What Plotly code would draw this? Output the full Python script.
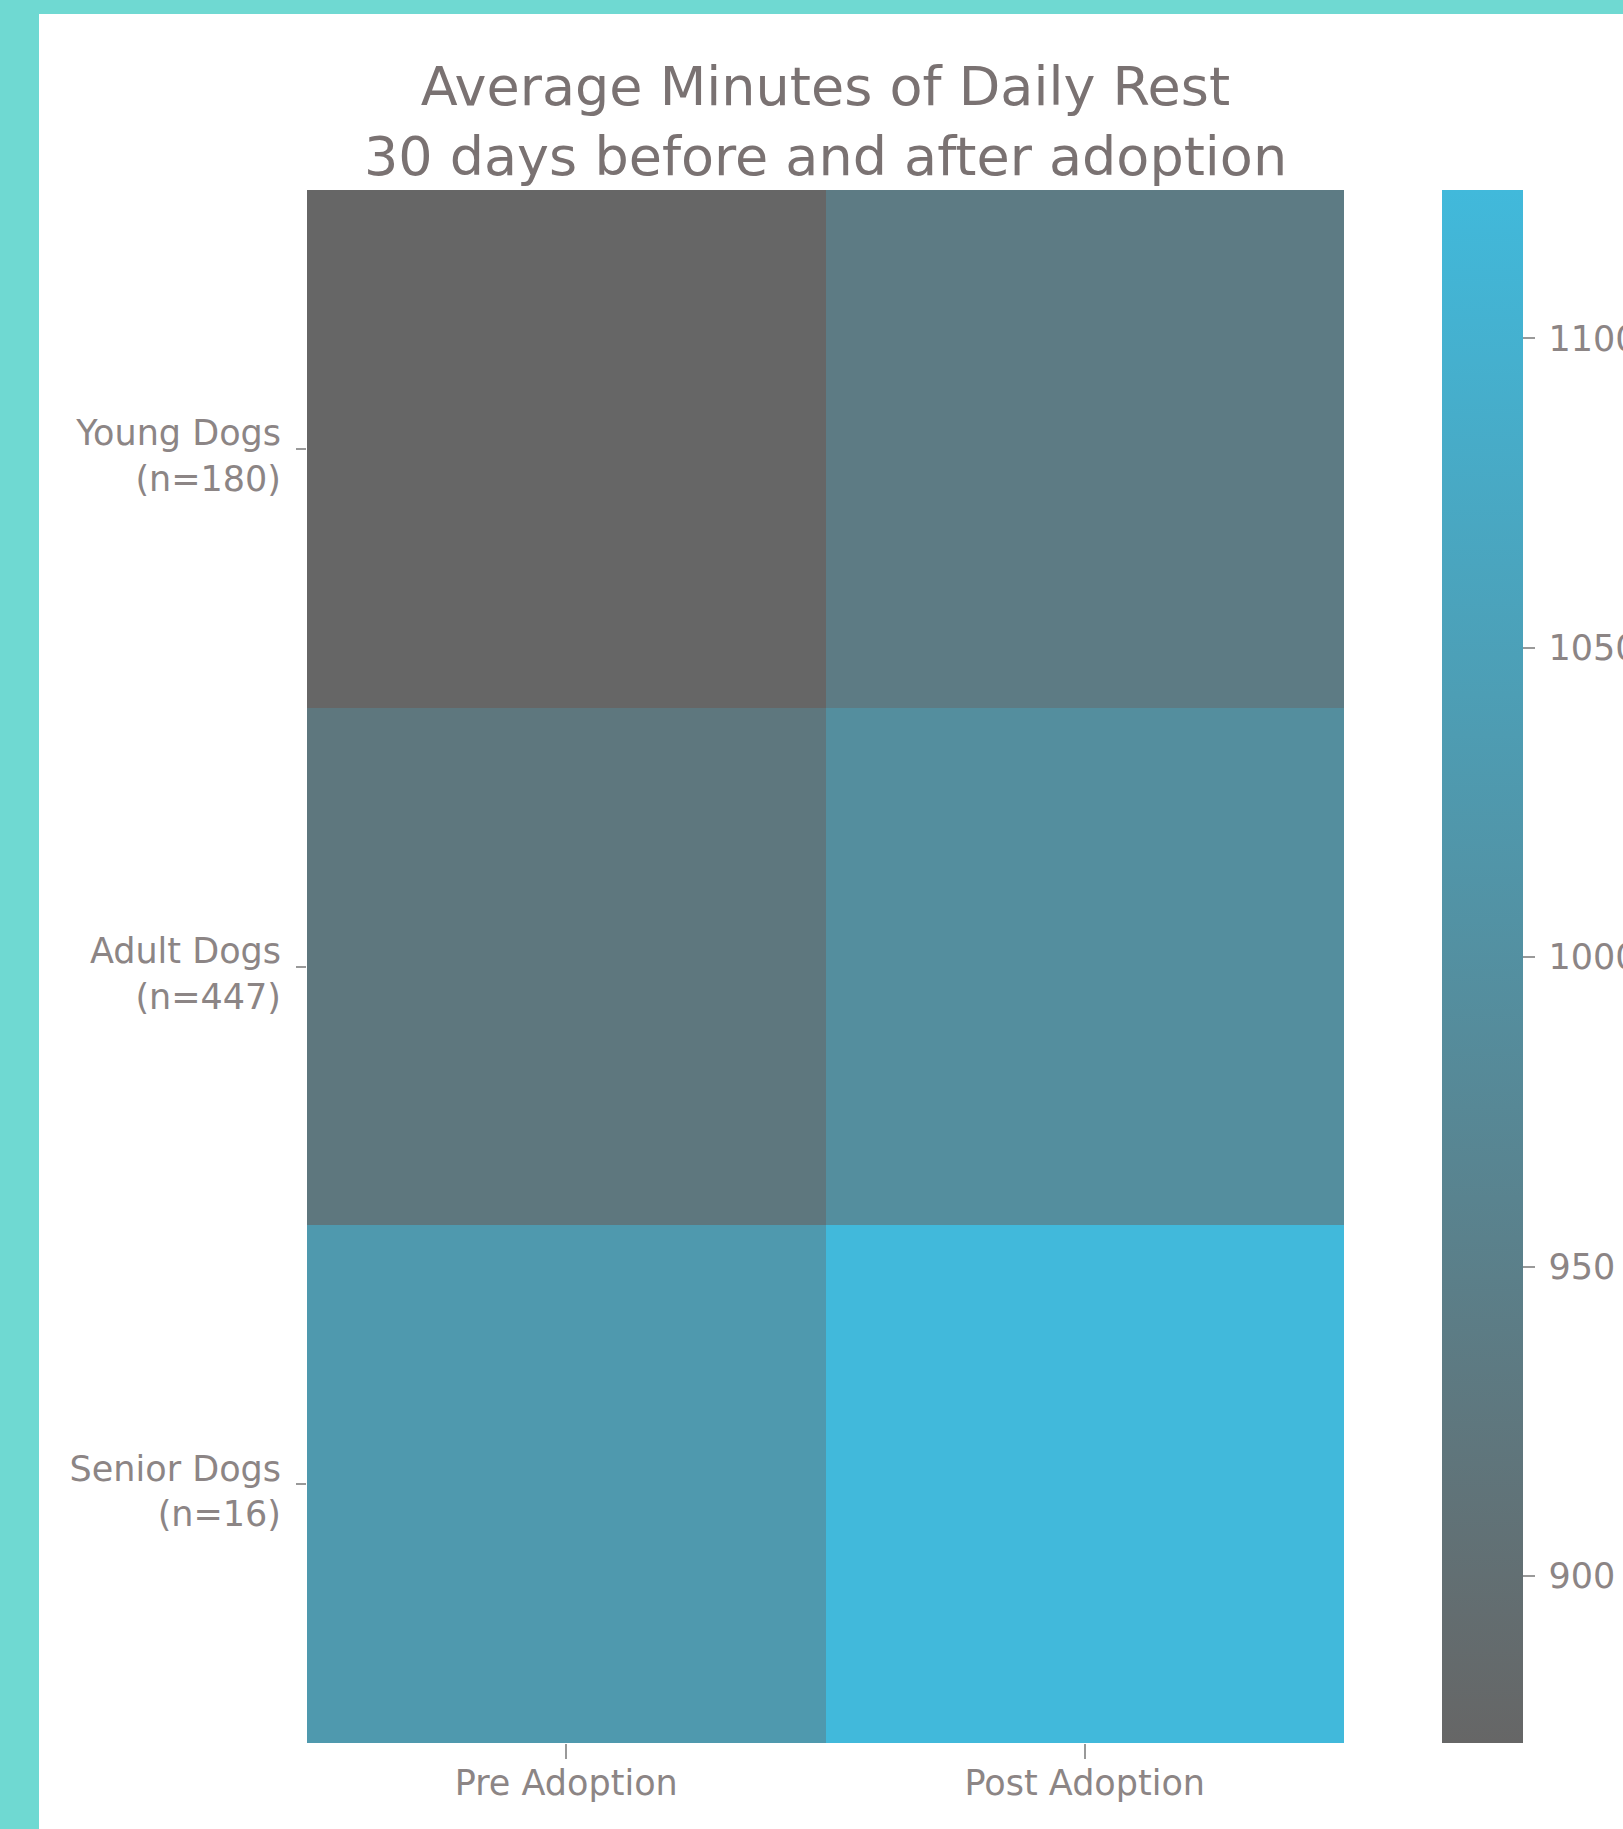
import plotly.graph_objects as go

# ---- data ----
phases = ["Pre Adoption", "Post Adoption"]
groups = ["Young Dogs<br>(n=180)", "Adult Dogs<br>(n=447)", "Senior Dogs<br>(n=16)"]
pre_adoption = [873, 924, 1027]
post_adoption = [937, 994, 1124]
cbar_ticks = [900, 950, 1000, 1050, 1100]
cbar_ticktext = ["\u2009" + str(v) for v in cbar_ticks]

z = [[p, q] for p, q in zip(pre_adoption, post_adoption)]

W, H = 1623, 1829
L, R, T, B = 307, 1344, 190, 1743
pw, ph = R - L, B - T

title_color = "#7a7272"
tick_color = "#8c8585"
font_family = "DejaVu Sans"
teal = "#6fd9d2"

fig = go.Figure()
fig.add_trace(go.Heatmap(
    x=phases, y=groups, z=z,
    colorscale=[[0, "#666666"], [1, "#41b9db"]],
    zmin=min(pre_adoption + post_adoption),
    zmax=max(pre_adoption + post_adoption),
    xgap=0, ygap=0,
    colorbar=dict(
        thickness=81, thicknessmode="pixels",
        len=1, lenmode="fraction",
        x=(1442 - L) / pw, xanchor="left", xpad=0,
        y=0, yanchor="bottom", ypad=0,
        outlinewidth=0,
        tickvals=cbar_ticks, ticktext=cbar_ticktext,
        ticks="outside", ticklen=12, tickcolor="#999999", tickwidth=1.5,
        tickfont=dict(family=font_family, size=35, color=tick_color),
    ),
    hoverongaps=False,
))

fig.add_shape(type="rect", xref="paper", yref="paper", layer="below",
              x0=(39 - L) / pw, x1=1.6, y0=-0.2, y1=(B - 14) / ph,
              fillcolor="white", line=dict(width=0))

fig.update_layout(
    width=W, height=H,
    margin=dict(l=L, r=W - R, t=T, b=H - B, pad=0, autoexpand=False),
    paper_bgcolor=teal,
    plot_bgcolor="white",
    title=dict(
        text="Average Minutes of Daily Rest<br>30 days before and after adoption",
        x=(L + pw / 2) / W, xanchor="center",
        y=1 - 105 / H, yanchor="middle",
        font=dict(family=font_family, size=54, color=title_color),
    ),
    xaxis=dict(
        showgrid=False, zeroline=False, showline=False,
        ticks="outside", ticklen=15, tickcolor="#999999", tickwidth=1.5,
        ticklabelstandoff=-6,
        tickfont=dict(family=font_family, size=35, color=tick_color),
    ),
    yaxis=dict(
        showgrid=False, zeroline=False, showline=False,
        autorange="reversed",
        ticks="outside", ticklen=10, tickcolor="#999999", tickwidth=1.5,
        ticklabelstandoff=8, ticklabelshift=-7,
        tickfont=dict(family=font_family, size=35, color=tick_color),
    ),
)

fig.write_html(
    "out.html",
    config={"displayModeBar": False},
    post_script="document.body.style.margin='0';document.body.style.background='" + teal + "';",
)
